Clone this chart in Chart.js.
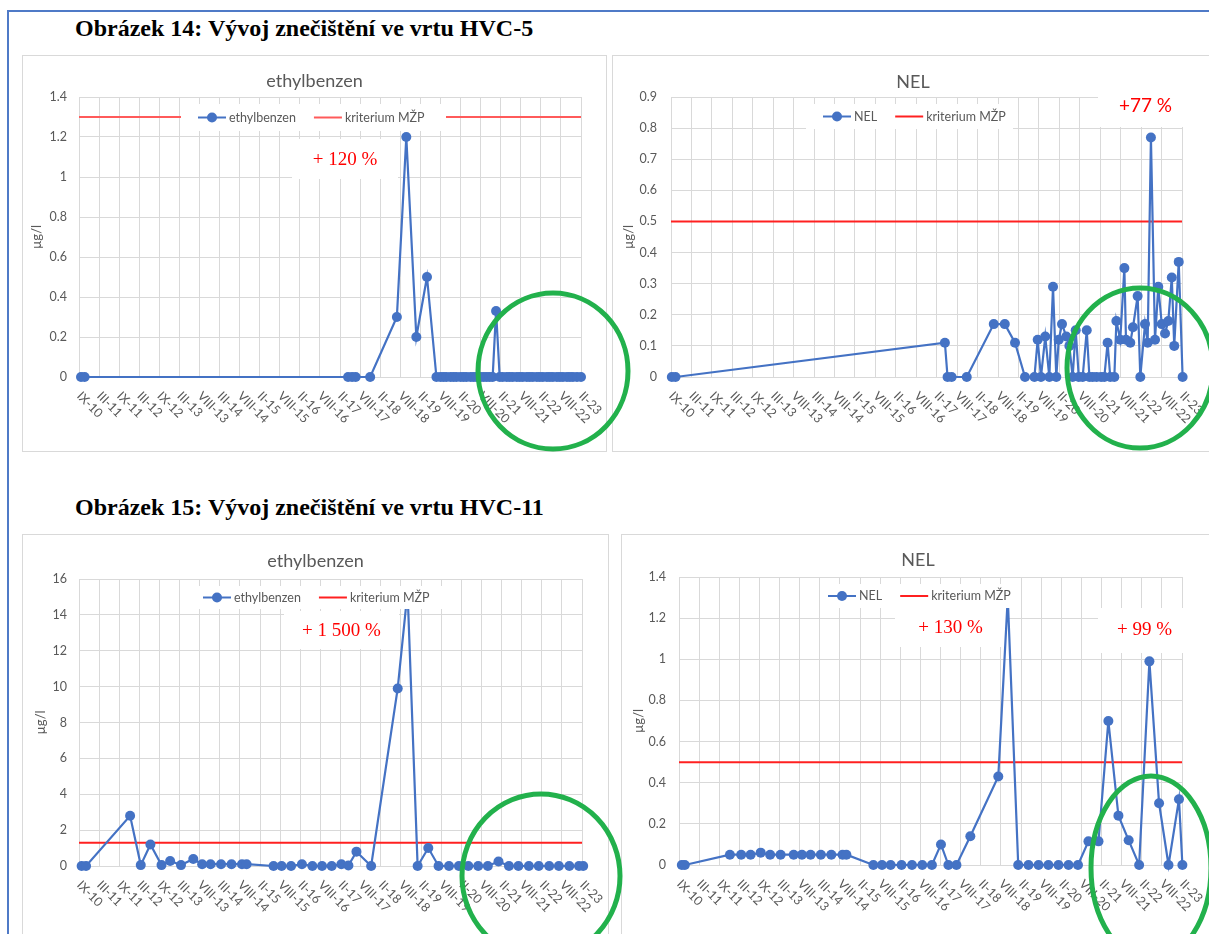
<!DOCTYPE html>
<html>
<head>
<meta charset="utf-8">
<script src="https://cdn.jsdelivr.net/npm/chart.js@4.4.1/dist/chart.umd.min.js"></script>
<style>
  body { margin: 0; background: #fff; width: 1209px; height: 934px; overflow: hidden; position: relative; }
  .frame { position: absolute; left: 7px; top: 10px; width: 1220px; height: 940px; border-top: 2px solid #4f7ac7; border-left: 2px solid #4f7ac7; }
  .fig { position: absolute; left: 75px; font: bold 24px "Liberation Serif", serif; color: #000; white-space: nowrap; line-height: 26px; }
  .panel { position: absolute; border: 1px solid #d9d9d9; background: #fff; }
  .panel canvas { display: block; }
  #rings { position: absolute; left: 0; top: 0; pointer-events: none; }
</style>
</head>
<body>
<div class="frame"></div>
<div class="fig" style="top:15px">Obrázek 14: Vývoj znečištění ve vrtu HVC-5</div>
<div class="fig" style="top:494px">Obrázek 15: Vývoj znečištění ve vrtu HVC-11</div>

<div class="panel" style="left:22px;top:55px"><canvas id="c1" width="583" height="395"></canvas></div>
<div class="panel" style="left:612px;top:55px"><canvas id="c2" width="600" height="395"></canvas></div>
<div class="panel" style="left:22px;top:534px"><canvas id="c3" width="585" height="410"></canvas></div>
<div class="panel" style="left:621px;top:534px"><canvas id="c4" width="592" height="410"></canvas></div>
<canvas id="rings" width="1209" height="934"></canvas>

<script>
// osa x - popisky po pulroce (pozice bodu jsou v jednotkach techto popisku)
const xTickLabels = ["IX-10", "III-11", "IX-11", "III-12", "IX-12", "III-13", "VIII-13", "III-14", "VIII-14",
  "II-15", "VIII-15", "II-16", "VIII-16", "II-17", "VIII-17", "II-18", "VIII-18", "II-19", "VIII-19",
  "II-20", "VIII-20", "II-21", "VIII-21", "II-22", "VIII-22", "II-23"];

// HVC-5 ethylbenzen
const hvc5EthylX = [0.1, 0.28, 13.4, 13.6, 13.78, 14.5, 15.83, 16.3, 16.8, 17.33, 17.8, 18.0, 18.15, 18.3, 18.5,
  18.65, 18.8, 19.0, 19.15, 19.3, 19.5, 19.65, 19.8, 20.0, 20.15, 20.3, 20.45, 20.6, 20.77, 20.95, 21.1, 21.3,
  21.45, 21.6, 21.8, 21.95, 22.1, 22.3, 22.45, 22.6, 22.8, 22.95, 23.1, 23.3, 23.45, 23.6, 23.8, 23.95, 24.1,
  24.3, 24.45, 24.6, 24.8, 25.0];
const hvc5EthylY = [0, 0, 0, 0, 0, 0, 0.3, 1.2, 0.2, 0.5, 0, 0, 0, 0, 0, 0, 0, 0, 0, 0, 0, 0, 0, 0, 0, 0, 0, 0,
  0.33, 0, 0, 0, 0, 0, 0, 0, 0, 0, 0, 0, 0, 0, 0, 0, 0, 0, 0, 0, 0, 0, 0, 0, 0, 0];
const hvc5EthylLimit = 1.3;

// HVC-5 NEL
const hvc5NelX = [0.04, 0.22, 13.4, 13.53, 13.73, 14.47, 15.79, 16.33, 16.83, 17.32, 17.78, 17.94, 18.1, 18.31,
  18.51, 18.69, 18.85, 18.97, 19.13, 19.34, 19.49, 19.65, 19.8, 19.95, 20.14, 20.34, 20.47, 20.63, 20.82, 21.04,
  21.2, 21.36, 21.49, 21.69, 21.79, 21.98, 22.18, 22.26, 22.47, 22.6, 22.83, 22.96, 23.19, 23.32, 23.48, 23.68,
  23.84, 24.01, 24.17, 24.33, 24.5, 24.62, 24.84, 25.03];
const hvc5NelY = [0, 0, 0.11, 0, 0, 0, 0.17, 0.17, 0.11, 0, 0, 0.12, 0, 0.13, 0, 0.29, 0, 0.12, 0.17, 0.13, 0.10,
  0, 0.15, 0, 0, 0.15, 0, 0, 0, 0, 0, 0.11, 0, 0, 0.18, 0.12, 0.35, 0.12, 0.11, 0.16, 0.26, 0, 0.17, 0.11, 0.77,
  0.12, 0.29, 0.17, 0.14, 0.18, 0.32, 0.10, 0.37, 0];
const hvc5NelLimit = 0.5;

// HVC-11 ethylbenzen
const hvc11EthylX = [0.13, 0.35, 2.54, 3.07, 3.55, 4.1, 4.53, 5.07, 5.68, 6.12, 6.54, 7.06, 7.58, 8.1, 8.33, 9.67,
  10.07, 10.54, 11.08, 11.6, 12.08, 12.56, 13.04, 13.39, 13.79, 14.52, 15.84, 16.33, 16.83, 17.36, 17.87, 18.39,
  18.88, 19.35, 19.84, 20.32, 20.85, 21.37, 21.84, 22.36, 22.85, 23.37, 23.85, 24.37, 24.85, 25.06];
const hvc11EthylY = [0, 0, 2.8, 0.05, 1.2, 0.05, 0.28, 0.05, 0.39, 0.1, 0.1, 0.1, 0.1, 0.1, 0.1, 0, 0, 0, 0.1, 0,
  0, 0, 0.1, 0.03, 0.8, 0, 9.9, 15.3, 0, 1.0, 0, 0, 0, 0, 0, 0, 0.25, 0, 0, 0, 0, 0, 0, 0, 0, 0];
const hvc11EthylLimit = 1.3;

// HVC-11 NEL
const hvc11NelX = [0.14, 0.29, 2.53, 3.09, 3.56, 4.06, 4.53, 5.05, 5.7, 6.11, 6.54, 7.05, 7.57, 8.13, 8.32, 9.66,
  10.09, 10.52, 11.06, 11.58, 12.09, 12.57, 13.02, 13.39, 13.79, 14.48, 15.87, 16.34, 16.86, 17.37, 17.87, 18.36,
  18.86, 19.36, 19.83, 20.35, 20.85, 21.34, 21.84, 22.35, 22.87, 23.38, 23.86, 24.33, 24.85, 25.02];
const hvc11NelY = [0, 0, 0.05, 0.05, 0.05, 0.06, 0.05, 0.05, 0.05, 0.05, 0.05, 0.05, 0.05, 0.05, 0.05, 0, 0, 0, 0,
  0, 0, 0, 0.1, 0, 0, 0.14, 0.43, 1.3, 0, 0, 0, 0, 0, 0, 0, 0.115, 0.115, 0.7, 0.24, 0.12, 0, 0.99, 0.3, 0, 0.32, 0];
const hvc11NelLimit = 0.5;

const BLUE = "#4472c4";
const RED = "#ff2020";
const GRID = "#d9d9d9";
const TEXT = "#595959";
const SERIF = '19px "Liberation Serif", serif';

// titulek, legenda, popisky osy x a textova pole
const deco = {
  id: "deco",
  beforeDatasetsDraw(chart, args, o) {
    const ctx = chart.ctx;
    o.notes.forEach(n => {
      ctx.save();
      ctx.fillStyle = "#fff";
      ctx.fillRect(n.box[0], n.box[1], n.box[2], n.box[3]);
      ctx.fillStyle = "#ff0000";
      ctx.font = n.font;
      ctx.textAlign = "center";
      ctx.textBaseline = "middle";
      ctx.fillText(n.text, n.box[0] + n.box[2] / 2, n.box[1] + n.box[3] / 2 + (n.dy || 0));
      ctx.restore();
    });
  },
  afterDatasetsDraw(chart, args, o) {
    const ctx = chart.ctx;
    const [bx, by, bw, bh] = o.legendBox;
    const cy = by + bh / 2;
    ctx.save();
    ctx.fillStyle = "#fff";
    ctx.fillRect(bx, by, bw, bh);
    ctx.font = "12.5px Lato, sans-serif";
    ctx.textBaseline = "middle";
    ctx.textAlign = "left";
    let x = o.legendStart;
    chart.data.datasets.forEach(ds => {
      ctx.strokeStyle = ds.borderColor;
      ctx.lineWidth = 2;
      ctx.beginPath();
      ctx.moveTo(x, cy);
      ctx.lineTo(x + 28, cy);
      ctx.stroke();
      if (ds.pointRadius > 0) {
        ctx.fillStyle = ds.borderColor;
        ctx.beginPath();
        ctx.arc(x + 14, cy, 5, 0, Math.PI * 2);
        ctx.fill();
      }
      x += 31;
      ctx.fillStyle = TEXT;
      ctx.fillText(ds.label, x, cy);
      x += ctx.measureText(ds.label).width + 18;
    });
    ctx.restore();
  },
  afterDraw(chart, args, o) {
    const ctx = chart.ctx;
    const xs = chart.scales.x;
    const area = chart.chartArea;
    ctx.save();
    ctx.fillStyle = TEXT;
    ctx.font = "18px Lato, sans-serif";
    ctx.textAlign = "center";
    ctx.textBaseline = "middle";
    ctx.fillText(o.title, chart.width / 2, o.titleY);
    ctx.font = "12.5px Lato, sans-serif";
    ctx.textAlign = "left";
    xTickLabels.forEach((t, i) => {
      ctx.save();
      ctx.translate(xs.getPixelForValue(i), area.bottom + 17);
      ctx.rotate(Math.PI / 4);
      ctx.fillText(t, 0, 0);
      ctx.restore();
    });
    ctx.restore();
  }
};

function makeChart(id, cfg) {
  const points = cfg.xs.map((x, i) => ({ x: x, y: cfg.ys[i] }));
  return new Chart(document.getElementById(id), {
    type: "scatter",
    data: {
      datasets: [
        {
          label: cfg.name,
          data: points,
          showLine: true,
          borderColor: BLUE,
          backgroundColor: BLUE,
          borderWidth: 2.2,
          pointRadius: 5,
          pointBorderWidth: 0,
          clip: false
        },
        {
          label: "kriterium MŽP",
          data: [{ x: 0, y: cfg.limit }, { x: 25, y: cfg.limit }],
          showLine: true,
          borderColor: cfg.limitColor || RED,
          borderWidth: 2,
          pointRadius: 0
        }
      ]
    },
    options: {
      responsive: false,
      animation: false,
      devicePixelRatio: 1,
      layout: { padding: cfg.pad },
      scales: {
        x: {
          type: "linear",
          min: 0,
          max: 25,
          ticks: { display: false, stepSize: 1 },
          grid: { color: GRID, drawTicks: false },
          border: { color: GRID },
          afterFit: s => { s.height = 0; }
        },
        y: {
          min: 0,
          max: cfg.yMax,
          ticks: {
            stepSize: cfg.yStep,
            color: TEXT,
            padding: cfg.tickPad,
            font: { family: "Lato", size: 12.5 },
            callback: v => String(Number(v.toFixed(2)))
          },
          grid: { color: GRID, drawTicks: false },
          border: { color: GRID },
          title: {
            display: true,
            text: "µg/l",
            color: TEXT,
            font: { family: "Lato", size: 13 },
            padding: { top: 0, bottom: 0 }
          },
          afterFit: s => { s.width = cfg.yWidth; }
        }
      },
      plugins: {
        legend: { display: false },
        tooltip: { enabled: false },
        deco: {
          title: cfg.title,
          titleY: cfg.titleY,
          legendBox: cfg.legendBox,
          legendStart: cfg.legendStart,
          notes: cfg.notes
        }
      }
    },
    plugins: [deco]
  });
}

function drawRings() {
  const ctx = document.getElementById("rings").getContext("2d");
  ctx.strokeStyle = "#22b14c";
  ctx.lineWidth = 5;
  [[553, 371, 75, 78], [1140, 368, 73, 80], [541, 876, 79, 82], [1151, 868, 60, 92]].forEach(r => {
    ctx.beginPath();
    ctx.ellipse(r[0], r[1], r[2], r[3], 0, 0, Math.PI * 2);
    ctx.stroke();
  });
}

function build() {
  makeChart("c1", {
    title: "ethylbenzen", name: "ethylbenzen", titleY: 25,
    xs: hvc5EthylX, ys: hvc5EthylY, limit: hvc5EthylLimit, limitColor: "#ff5a5a",
    yMax: 1.4, yStep: 0.2,
    pad: { left: 6, top: 41, right: 25, bottom: 74 }, yWidth: 50, tickPad: 12,
    legendBox: [158, 48, 265, 27], legendStart: 175,
    notes: [{ box: [269, 83, 106, 40], text: "+ 120 %", font: SERIF, dy: 1 }]
  });
  makeChart("c2", {
    title: "NEL", name: "NEL", titleY: 26,
    xs: hvc5NelX, ys: hvc5NelY, limit: hvc5NelLimit,
    yMax: 0.9, yStep: 0.1,
    pad: { left: 8, top: 41, right: 31, bottom: 74 }, yWidth: 50, tickPad: 14,
    legendBox: [193, 48, 207, 25], legendStart: 210,
    notes: [{ box: [485, 32, 95, 39], text: "+77 %", font: "19px Lato, sans-serif", dy: -2 }]
  });
  makeChart("c3", {
    title: "ethylbenzen", name: "ethylbenzen", titleY: 26,
    xs: hvc11EthylX, ys: hvc11EthylY, limit: hvc11EthylLimit,
    yMax: 16, yStep: 2,
    pad: { left: 10, top: 44, right: 26, bottom: 79 }, yWidth: 46, tickPad: 12,
    legendBox: [175, 51, 244, 23], legendStart: 180,
    notes: [{ box: [261, 76, 115, 38], text: "+ 1 500 %", font: SERIF, dy: 1 }]
  });
  makeChart("c4", {
    title: "NEL", name: "NEL", titleY: 25,
    xs: hvc11NelX, ys: hvc11NelY, limit: hvc11NelLimit,
    yMax: 1.4, yStep: 0.2,
    pad: { left: 9, top: 42, right: 32, bottom: 80 }, yWidth: 48, tickPad: 13,
    legendBox: [199, 49, 193, 24], legendStart: 206,
    notes: [
      { box: [273, 73, 111, 39], text: "+ 130 %", font: SERIF, dy: 1 },
      { box: [476, 73, 93, 45], text: "+ 99 %", font: SERIF, dy: 0 }
    ]
  });
  drawRings();
}

Promise.all([
  document.fonts.load("12px Lato"),
  document.fonts.load("18px Lato"),
  document.fonts.load('19px "Liberation Serif"'),
  document.fonts.load('bold 24px "Liberation Serif"')
]).then(build, build);
</script>
</body>
</html>
